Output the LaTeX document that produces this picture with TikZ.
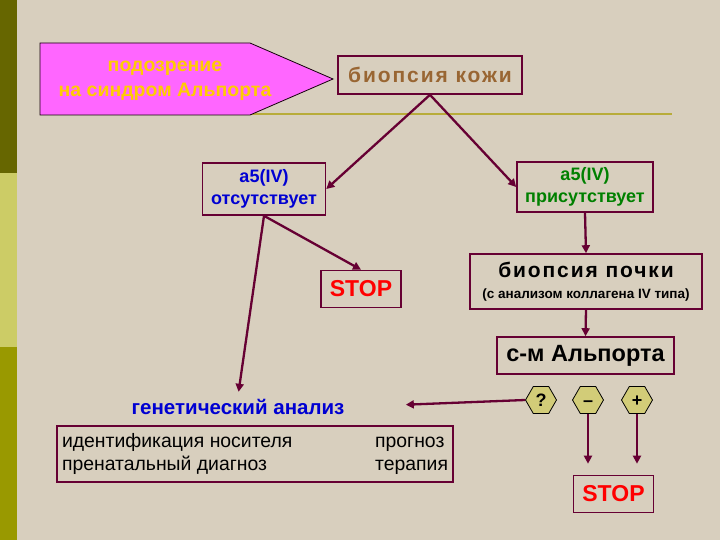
\documentclass[tikz,border=0pt]{standalone}
\usepackage{fontspec}
\setmainfont{Liberation Sans}
\newfontfamily\widesans[LetterSpace=9]{Liberation Sans}
\usetikzlibrary{arrows.meta,shapes.geometric}
\definecolor{paper}{RGB}{216,207,190}
\definecolor{wine}{RGB}{102,0,51}
\definecolor{stripdark}{RGB}{102,102,0}
\definecolor{striplight}{RGB}{204,204,102}
\definecolor{stripmid}{RGB}{153,153,0}
\definecolor{rule}{RGB}{184,172,58}
\definecolor{flag}{RGB}{255,102,255}
\definecolor{gold}{RGB}{255,204,0}
\definecolor{tan}{RGB}{153,102,51}
\definecolor{khaki}{RGB}{210,204,120}
\definecolor{ink}{RGB}{0,0,210}
\definecolor{leaf}{RGB}{0,128,0}

\begin{document}
\begin{tikzpicture}[x=1pt, y=-1pt,
          box/.style={draw=wine, line width=1.6pt, inner sep=3pt,
                      align=center},
          stopbox/.style={box, text=red, minimum width=80pt, minimum height=37pt,
                      font=\fontsize{23}{26}\bfseries\selectfont},
          hex/.style={regular polygon, regular polygon sides=6,
                      draw=black, line width=0.8pt,
                      fill=khaki, minimum size=31pt, inner sep=0pt,
                      text height=12pt, text depth=0pt,
                      font=\fontsize{18}{18}\bfseries\selectfont},
          arr/.style={-{Triangle[length=8pt,width=8pt]}, line width=2.3pt, wine}
        ]
          % slide background
          \fill[paper] (0,0) rectangle (720,540);
          \fill[stripdark] (0,0) rectangle (17,173);
          \fill[striplight] (0,173) rectangle (17,347);
          \fill[stripmid] (0,347) rectangle (17,540);
          \draw[rule, line width=2.5pt] (250,114) -- (672,114);
          % pointer
          \draw[fill=flag, draw=black!80!wine, line width=0.8pt]
            (40,43) -- (250,43) -- (333,79) -- (250,115) -- (40,115) -- cycle;
          \node[align=center, text=gold, font=\fontsize{19.5}{25}\bfseries\selectfont]
            (susp) at (165,81) {подозрение\\на синдром Альпорта};
          \node[box, text=tan, minimum width=184pt, minimum height=38pt,
                font=\widesans\fontsize{21}{24}\bfseries\selectfont]
            (skin) at (430,75) {биопсия кожи};
          \node[box, text=ink, minimum width=123pt, minimum height=52pt,
                font=\fontsize{18}{22}\bfseries\selectfont]
            (absent) at (264,189) {a5(IV)\\отсутствует};
          \node[box, text=leaf, minimum width=136pt, minimum height=50pt,
                font=\fontsize{18}{22}\bfseries\selectfont]
            (present) at (585,187) {a5(IV)\\присутствует};
          \node[stopbox] (stopA) at (361,289) {STOP};
          \node[box, minimum width=232pt, minimum height=55pt,
                font=\fontsize{21}{21}\bfseries\selectfont]
            (kidney) at (586,281.5)
            {{\widesans биопсия почки}\\
             {\fontsize{13.5}{16}\selectfont (с анализом коллагена IV типа)}};
          \node[box, minimum width=177pt, minimum height=37pt,
                font=\fontsize{23.5}{26}\bfseries\selectfont]
            (alport) at (585.5,355.5) {с-м Альпорта};
          \node[hex] (q) at (541,400) {?};
          \node[hex] (minus) at (588,400) {--};
          \node[hex] (plus) at (637,400) {+};
          \node[text=ink, font=\fontsize{20.5}{22}\bfseries\selectfont]
            (gen) at (238,407) {генетический анализ};
          \node[box, line width=1.2pt, inner sep=5pt, minimum height=48pt,
                font=\fontsize{19.4}{23}\selectfont]
            (out) at (255,454)
            {\begin{tabular*}{386pt}{@{}l@{\extracolsep{\fill}}l@{}}
               идентификация носителя & прогноз\\
               пренатальный диагноз & терапия
             \end{tabular*}};
          \node[stopbox] (stopB) at (613.5,494) {STOP};
          \draw[arr] (skin.south) -- (absent.east);
          \draw[arr] (skin.south) -- (present.west);
          \draw[arr] (absent.south) -- (stopA.north);
          \draw[arr, shorten >=4pt] (absent.south) -- (gen.north);
          \draw[arr] (present.south) -- (kidney.north);
          \draw[arr] (kidney.south) -- (alport.north);
          \draw[arr, shorten >=58pt] (q.west) -- (gen.east);
          \draw[arr, shorten >=11pt] (minus.south) -- (minus.south |- stopB.north);
          \draw[arr, shorten >=11pt] (plus.south) -- (plus.south |- stopB.north);
        \end{tikzpicture}
\end{document}
